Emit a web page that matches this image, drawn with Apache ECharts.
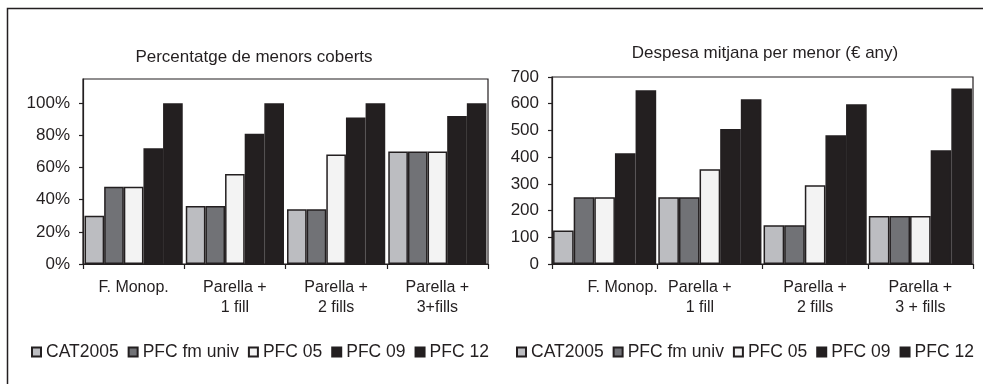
<!DOCTYPE html>
<html>
<head>
<meta charset="utf-8">
<script src="https://cdn.jsdelivr.net/npm/echarts@6/dist/echarts.min.js"></script>
<style>
  html, body { margin: 0; padding: 0; background: #ffffff; }
  #chart { width: 983px; height: 384px; }
</style>
</head>
<body>
<div id="chart"></div>
<script>
// Categories (family types) for each panel
const coverageCategories = ['F. Monop.', 'Parella +\n1 fill', 'Parella +\n2 fills', 'Parella +\n3+fills'];
const spendingCategories = ['F. Monop.', 'Parella +\n1 fill', 'Parella +\n2 fills', 'Parella +\n3 + fills'];

// Series (policy scenarios)
const seriesNames = ['CAT2005', 'PFC fm univ', 'PFC 05', 'PFC 09', 'PFC 12'];

// Percentage of minors covered (%)
const coverageCAT2005 = [30, 36, 34, 70];
const coveragePFCfmUniv = [48, 36, 34, 70];
const coveragePFC05 = [48, 56, 68, 70];
const coveragePFC09 = [72, 81, 91, 92];
const coveragePFC12 = [100, 100, 100, 100];

// Average spending per minor (EUR per year)
const spendingCAT2005 = [125, 250, 145, 180];
const spendingPFCfmUniv = [250, 250, 145, 180];
const spendingPFC05 = [250, 355, 295, 180];
const spendingPFC09 = [415, 505, 482, 426];
const spendingPFC12 = [650, 617, 598, 657];

// Tick labels
const coverageTicks = [0, 20, 40, 60, 80, 100];
const spendingTicks = [0, 100, 200, 300, 400, 500, 600, 700];

const coverageData = [coverageCAT2005, coveragePFCfmUniv, coveragePFC05, coveragePFC09, coveragePFC12];
const spendingData = [spendingCAT2005, spendingPFCfmUniv, spendingPFC05, spendingPFC09, spendingPFC12];

const FONT = "'Liberation Sans', Arial, Helvetica, sans-serif";
const INK = '#231f20';
const fills = ['#bcbdc1', '#717276', '#f3f3f3', '#231f20', '#231f20'];

const chart = echarts.init(document.getElementById('chart'), null, { renderer: 'canvas' });

function makeSeries(data, axisIndex, gapPct) {
  return data.map((values, i) => ({
    name: seriesNames[i],
    type: 'bar',
    xAxisIndex: axisIndex,
    yAxisIndex: axisIndex,
    data: values,
    barGap: '0%',
    barCategoryGap: gapPct,
    itemStyle: { color: fills[i], borderColor: INK, borderWidth: 1.5 },
    emphasis: { disabled: true },
    animation: false
  }));
}

const xAxisCommon = {
  type: 'category',
  axisLine: { lineStyle: { color: INK, width: 1.2 } },
  axisTick: { show: true, length: 5, lineStyle: { color: INK, width: 1.2 } },
  axisLabel: { color: INK, fontFamily: FONT, fontSize: 16, lineHeight: 20, margin: 14, interval: 0 },
  splitLine: { show: false }
};

const yAxisCommon = {
  type: 'value',
  axisLine: { show: true, lineStyle: { color: INK, width: 1.2 } },
  axisTick: { show: true, length: 4, lineStyle: { color: INK, width: 1.2 } },
  splitLine: { show: false }
};

const legendCommon = {
  data: seriesNames,
  orient: 'horizontal',
  icon: 'rect',
  itemWidth: 9,
  itemHeight: 9,
  itemGap: 9,
  textStyle: { color: INK, fontFamily: FONT, fontSize: 17.5 },
  selectedMode: false,
  top: 338
};

const option = {
  backgroundColor: '#ffffff',
  animation: false,
  title: [
    {
      text: 'Percentatge de menors coberts',
      left: 249, top: 44, textAlign: 'center',
      textStyle: { color: INK, fontFamily: FONT, fontSize: 17, fontWeight: 'normal' }
    },
    {
      text: 'Despesa mitjana per menor (€ any)',
      left: 760, top: 40, textAlign: 'center',
      textStyle: { color: INK, fontFamily: FONT, fontSize: 17, fontWeight: 'normal' }
    }
  ],
  legend: [
    Object.assign({}, legendCommon, { left: 26 }),
    Object.assign({}, legendCommon, { left: 511 })
  ],
  grid: [
    { left: 83, right: 495, top: 79, bottom: 120, show: true, borderColor: INK, borderWidth: 1.2, backgroundColor: 'transparent' },
    { left: 552, right: 10, top: 77, bottom: 120, show: true, borderColor: INK, borderWidth: 1.2, backgroundColor: 'transparent' }
  ],
  xAxis: [
    Object.assign({}, xAxisCommon, { gridIndex: 0, data: coverageCategories }),
    Object.assign({}, xAxisCommon, {
      gridIndex: 1,
      data: spendingCategories.map((c, i) => {
        // Excel-style label placement for the first two groups
        if (i === 0) return { value: c, textStyle: { padding: [0, 0, 0, 36] } };
        if (i === 1) return { value: c, textStyle: { padding: [0, 20, 0, 0] } };
        return c;
      })
    })
  ],
  yAxis: [
    Object.assign({}, yAxisCommon, {
      gridIndex: 0, min: 0, max: 115,
      axisTick: Object.assign({}, yAxisCommon.axisTick, { customValues: coverageTicks }),
      axisLabel: { color: INK, fontFamily: FONT, fontSize: 17, margin: 13, customValues: coverageTicks, formatter: '{value}%' }
    }),
    Object.assign({}, yAxisCommon, {
      gridIndex: 1, min: 0, max: 700, interval: 100,
      axisLabel: { color: INK, fontFamily: FONT, fontSize: 17, margin: 13 }
    })
  ],
  graphic: [
    {
      type: 'polyline',
      shape: { points: [[7.5, 384], [7.5, 8.5], [983, 8.5]] },
      style: { stroke: INK, lineWidth: 1.5, fill: null },
      silent: true
    }
  ],
  series: makeSeries(coverageData, 0, '3%').concat(makeSeries(spendingData, 1, '2%'))
};

chart.setOption(option);
</script>
</body>
</html>
